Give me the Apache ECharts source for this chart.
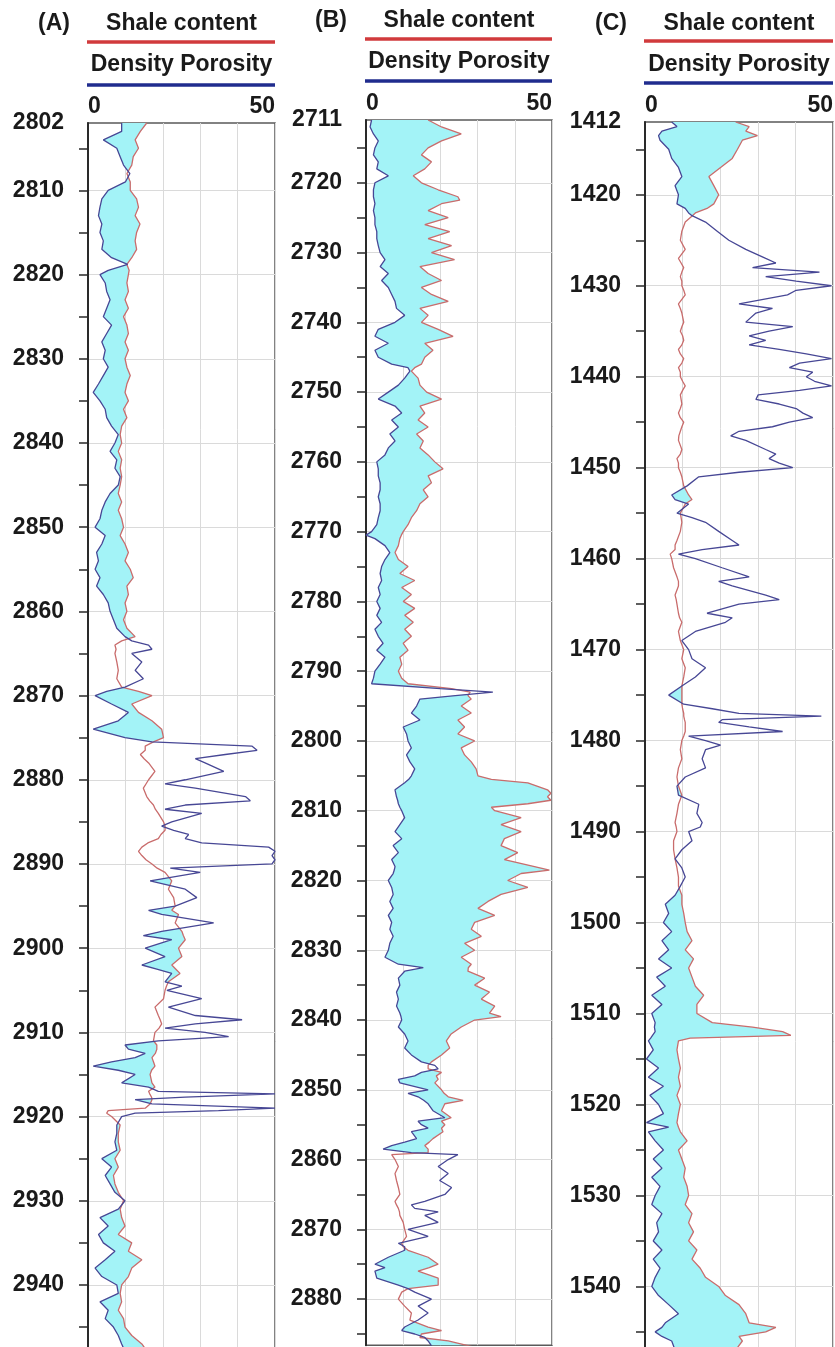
<!DOCTYPE html>
<html>
<head>
<meta charset="utf-8">
<script src="https://cdn.jsdelivr.net/npm/echarts@6/dist/echarts.min.js"></script>
<style>
  html, body { margin: 0; padding: 0; background: #ffffff; }
  #chart { width: 835px; height: 1347px; }
</style>
</head>
<body>
<div id="chart"></div>
<script>
// ---- Well A: depth (m), shale content (%), density porosity (%) ----
const depthA = [2802,2803,2804,2805,2806,2807,2808,2809,2810,2811,2812,2813,2814,2815,2816,2817,2818,2818.8,2819.5,2820,
  2821,2822,2823,2824,2825,2826,2827,2828,2829,2830,2831,2832,2833,2834,2835,2836,2837,2838,2839,2840,
  2841,2842,2843,2844,2845,2846,2847,2848,2849,2850,2851,2852,2853,2854,2855,2856,2857,2858,2859,2860,
  2861,2862,2863,2863.5,2864,2864.5,2865,2866,2867,2868,2869,2869.5,2870,2871,2872,2873,2874,2875,2875.5,2876,
  2876.5,2877,2877.5,2878,2879,2880,2880.5,2881,2882,2882.5,2883,2883.5,2884,2885,2885.5,2886,2886.5,2887,2887.5,2888,
  2888.5,2889,2889.5,2890,2890.5,2891,2892,2893,2894,2895,2895.5,2896,2897,2898,2898.5,2899,2900,2901,2902,2902.5,
  2903,2904,2904.5,2905,2906,2907,2908,2908.5,2909,2909.5,2910,2910.5,2911,2911.5,2912,2912.5,2913,2913.5,2914,2914.5,
  2915,2916,2916.5,2917,2917.3,2917.7,2918,2918.5,2919,2919.3,2919.6,2920,2921,2922,2923,2924,2925,2926,2927,2928,
  2929,2930,2931,2932,2933,2934,2935,2936,2937,2938,2939,2940,2941,2942,2943,2944,2945,2946,2947,2948];
const shaleA = [15.7,14.0,12.6,13.5,12.1,11.7,10.4,11.3,11.3,13.0,13.5,12.6,13.9,13.0,12.6,13.0,11.7,10.4,11.0,10.8,
  10.4,10.8,9.9,10.8,9.5,10.4,10.8,9.9,10.8,9.9,10.4,11.3,10.4,9.9,10.8,9.5,10.4,9.0,8.6,9.0,
  8.1,9.0,8.6,9.0,8.6,8.1,9.0,8.1,9.0,9.5,8.6,9.9,10.8,9.9,11.3,12.1,10.4,10.8,9.9,10.4,
  9.5,10.4,12.6,9.0,7.2,7.5,7.2,7.7,8.1,7.7,9.0,13.5,17.1,11.7,13.5,17.1,19.7,20.2,17.5,15.3,
  15.3,14.0,15.0,16.2,17.9,16.2,15.5,14.8,15.7,16.5,17.5,18.0,18.8,20.2,20.6,20.6,19.5,18.8,16.0,14.4,
  13.5,14.4,15.5,17.1,18.5,20.6,22.4,21.5,22.9,23.3,22.4,24.2,23.3,25.1,25.5,26.0,24.2,25.1,22.4,23.5,
  24.6,21.5,21.0,20.6,20.2,17.9,18.8,19.3,19.7,19.0,17.9,17.7,17.5,18.4,18.4,18.0,17.1,17.5,17.9,17.0,
  16.6,17.1,17.9,16.2,16.5,17.0,17.1,16.6,15.3,5.4,5.0,6.3,8.6,8.1,8.1,8.6,7.2,8.1,6.8,7.2,
  8.1,9.5,8.6,9.0,9.9,8.1,11.7,10.8,14.4,11.7,10.8,9.0,8.6,9.0,8.1,9.5,9.9,11.7,14.4,16.0];
const porA = [9.0,9.0,4.1,7.7,8.6,9.5,11.2,10.0,5.4,3.7,3.2,2.8,3.7,3.2,4.1,3.7,6.3,10.6,5.4,3.2,
  4.6,5.0,5.9,5.0,4.1,6.3,5.0,3.7,4.6,4.1,5.4,4.1,2.8,1.4,3.2,4.6,5.0,6.3,8.1,7.2,
  5.9,7.7,7.2,8.6,8.1,5.9,4.6,3.7,3.2,1.9,4.6,3.7,2.3,2.8,1.9,3.2,2.3,4.1,5.4,5.9,
  6.8,7.7,9.9,11.7,16.2,17.1,11.7,14.4,12.6,14.8,9.9,5.0,1.9,6.3,10.8,8.1,1.4,9.9,17.1,43.8,
  45.2,36.7,28.7,31.3,36.3,26.0,20.6,28.7,42.1,43.4,26.0,20.6,30.4,22.4,19.7,22.9,26.9,26.0,30.4,48.3,
  50.0,49.2,50.0,49.2,22.0,30.0,16.6,26.0,29.1,23.3,16.2,19.7,33.6,19.7,14.8,22.4,15.3,20.6,14.4,18.4,
  22.4,20.6,25.1,21.1,30.4,21.5,28.7,41.2,28.7,20.6,31.3,37.6,18.8,9.9,10.8,15.3,12.6,6.3,1.4,8.1,
  12.6,9.0,16.2,18.8,50.0,26.0,12.6,17.1,50.0,34.9,12.6,9.0,7.7,7.7,7.2,7.7,3.7,6.3,4.6,5.9,
  7.2,9.9,8.1,3.2,5.4,2.8,4.1,7.2,4.6,1.9,3.7,7.7,8.1,3.2,5.4,4.6,6.8,8.1,9.0,10.0];
const depthLabelsA = [2802,2810,2820,2830,2840,2850,2860,2870,2880,2890,2900,2910,2920,2930,2940];
const depthTicksA = [2805,2810,2815,2820,2825,2830,2835,2840,2845,2850,2855,2860,2865,2870,2875,2880,2885,2890,
  2895,2900,2905,2910,2915,2920,2925,2930,2935,2940,2945];

// ---- Well B ----
const depthB = [2711,2712,2713,2714,2715,2716,2717,2718,2719,2720,2721,2722,2722.5,2723,2724,2725,2726,2727,2728,2729,
  2730,2731,2732,2733,2734,2735,2736,2737,2738,2739,2740,2741,2742,2743,2744,2745,2746,2746.5,2747,2748,
  2749,2750,2751,2752,2753,2754,2755,2756,2757,2758,2759,2760,2761,2762,2763,2764,2765,2766,2767,2768,
  2769,2770,2770.5,2771,2772,2773,2774,2775,2776,2777,2778,2779,2780,2781,2782,2783,2784,2785,2786,2787,
  2788,2789,2790,2791,2791.8,2792.5,2793,2793.5,2794,2795,2796,2797,2798,2799,2800,2801,2802,2803,2804,2805,
  2805.5,2806,2807,2807.5,2808,2808.5,2809,2809.5,2810,2811,2812,2813,2814,2815,2816,2817,2818,2818.5,2819,2820,
  2821,2822,2823,2824,2825,2826,2827,2828,2829,2830,2831,2832,2832.5,2833,2834,2835,2836,2837,2838,2839,
  2839.5,2840,2841,2842,2843,2844,2845,2846,2846.5,2847,2847.5,2848,2848.5,2849,2850,2850.5,2851,2851.5,2852,2853,
  2854,2854.5,2855,2855.5,2856,2857,2857.5,2858,2858.5,2859,2859.3,2860,2861,2862,2863,2864,2865,2866,2866.5,2867,
  2867.5,2868,2869,2870,2871,2872,2872.5,2873,2874,2875,2875.5,2876,2877,2878,2878.5,2879,2880,2881,2882,2883,
  2884,2884.5,2885,2885.5,2886,2887];
const shaleB = [16.7,20.3,25.6,20.3,16.7,14.9,17.6,15.8,12.7,14.9,19.4,24.7,25.2,20.3,16.7,22.1,15.8,22.5,16.7,23.0,
  17.6,23.8,14.5,16.7,20.3,14.9,17.6,22.1,14.5,16.7,14.9,19.4,23.4,15.8,18.0,15.8,14.9,13.1,12.2,14.0,
  14.5,16.3,20.3,14.5,15.8,14.0,16.7,13.6,15.4,14.5,16.7,18.5,20.7,16.7,17.6,15.4,16.7,14.5,13.6,12.2,
  11.3,10.0,9.5,9.1,8.7,7.8,8.7,11.3,9.1,13.1,9.6,12.2,10.0,13.1,10.4,12.7,10.4,12.2,10.0,11.3,
  9.1,9.6,8.7,9.6,11.3,23.0,28.0,27.4,28.3,25.6,28.3,24.7,26.5,24.7,29.2,25.6,26.5,28.3,29.6,30.1,
  33.7,43.5,48.8,49.7,48.8,49.7,43.5,33.7,34.6,41.7,36.3,41.7,37.2,36.3,40.8,37.2,45.3,49.3,41.7,38.1,
  43.5,36.3,32.8,30.1,34.6,29.2,28.3,31.0,26.5,29.2,25.6,28.3,27.5,27.4,31.9,29.2,33.2,31.0,34.6,33.2,
  36.3,29.2,25.6,22.9,21.6,22.5,20.3,17.6,16.7,16.7,20.3,18.9,19.4,18.5,20.3,21.0,22.1,26.1,21.2,20.3,
  22.9,20.3,21.2,20.3,20.7,18.0,17.0,15.8,16.7,16.7,6.9,7.8,8.7,7.8,8.2,8.7,9.1,7.8,8.2,8.7,
  9.0,9.1,10.0,10.4,10.9,9.6,10.0,11.3,16.7,19.4,17.0,14.0,19.4,19.4,11.3,9.6,8.7,10.4,12.2,11.8,
  16.7,20.3,14.9,14.5,22.1,30.0];
const porB = [1.5,1.1,2.0,3.3,2.4,2.0,3.3,2.9,6.0,2.4,2.0,2.0,2.2,2.4,2.0,2.4,2.4,2.9,2.9,3.3,
  3.8,5.1,3.8,6.0,4.2,6.0,6.9,7.8,8.2,10.4,7.8,3.3,2.4,6.0,2.4,3.3,6.9,11.3,11.8,10.4,
  8.7,6.0,3.3,7.8,9.6,6.9,8.7,6.4,7.8,6.0,5.1,2.9,3.3,3.3,3.8,3.8,3.3,3.8,3.8,3.3,
  2.9,1.5,0.0,2.4,5.1,6.4,5.1,4.2,3.8,4.2,3.3,3.8,2.9,3.8,2.9,4.2,2.4,3.3,4.6,2.9,
  5.1,3.8,2.4,2.0,1.5,20.0,34.1,24.0,14.5,13.6,12.2,14.5,10.0,10.9,11.3,12.2,10.9,11.8,13.1,12.2,
  11.5,10.4,7.8,8.0,8.2,8.5,8.7,9.1,9.6,10.4,9.1,7.8,9.6,7.3,8.7,6.9,7.8,7.6,7.3,6.0,
  6.9,7.3,6.4,7.3,6.0,6.9,6.4,7.3,6.4,6.0,5.1,8.7,15.4,10.4,8.7,9.1,8.2,8.7,8.2,9.1,
  9.4,9.6,8.7,10.4,11.3,10.4,12.2,14.9,18.5,19.4,14.9,13.1,8.7,9.1,16.7,11.3,14.0,15.5,16.7,18.0,
  21.2,14.0,14.9,16.7,12.2,13.6,10.4,6.9,4.6,12.2,24.7,22.1,19.4,22.1,19.8,23.0,21.2,15.8,12.2,13.1,
  19.4,15.8,19.4,11.3,16.7,8.7,10.4,10.4,6.0,2.4,5.1,2.4,2.9,8.7,11.3,13.1,17.6,14.0,16.7,14.0,
  10.4,9.6,13.1,15.8,16.7,18.0];
const depthLabelsB = [2711,2720,2730,2740,2750,2760,2770,2780,2790,2800,2810,2820,2830,2840,2850,2860,2870,2880];
const depthTicksB = [2715,2720,2725,2730,2735,2740,2745,2750,2755,2760,2765,2770,2775,2780,2785,2790,2795,2800,
  2805,2810,2815,2820,2825,2830,2835,2840,2845,2850,2855,2860,2865,2870,2875,2880,2885];

// ---- Well C ----
const depthC = [1412,1412.5,1413,1413.5,1414,1415,1416,1417,1418,1419,1420,1421,1421.5,1422,1422.3,1423,1424,1425,1426,1427,
  1427.5,1428,1428.5,1429,1429.5,1430,1430.5,1431,1432,1432.5,1433,1434,1434.5,1435,1435.5,1436,1436.5,1437,1437.5,1438,
  1438.5,1439,1439.5,1440,1440.5,1441,1441.5,1442,1442.5,1443,1443.5,1444,1444.5,1445,1445.5,1446,1446.5,1447,1448,1448.5,
  1449,1449.5,1450,1450.5,1451,1452,1453,1453.5,1454,1455,1455.5,1456,1457,1458,1458.5,1459,1459.5,1460,1461,1462,
  1462.5,1463,1464,1464.5,1465,1466,1466.5,1467,1468,1469,1470,1471,1472,1473,1474,1475,1476,1476.5,1477,1477.3,
  1477.7,1478,1478.5,1479,1479.5,1480,1480.5,1481,1482,1483,1484,1485,1486,1487,1488,1489,1489.5,1490,1491,1492,
  1493,1494,1495,1496,1497,1498,1499,1500,1501,1502,1503,1504,1505,1506,1507,1508,1509,1510,1511,1511.5,
  1512,1512.4,1512.7,1513,1514,1515,1516,1517,1518,1519,1520,1521,1522,1522.5,1523,1524,1525,1526,1527,1528,
  1529,1530,1531,1532,1533,1534,1535,1536,1537,1538,1539,1540,1541,1542,1543,1544,1544.5,1545,1545.5,1546,
  1547,1548];
const shaleC = [24.1,27.7,26.8,29.9,25.9,24.6,23.2,20.1,17.0,18.3,19.6,18.3,16.5,13.4,12.6,10.7,9.8,9.4,10.7,8.9,
  9.6,10.3,9.8,9.4,9.8,9.8,10.3,10.7,8.9,9.4,9.8,10.3,9.8,9.4,10.0,10.3,9.8,8.9,9.4,10.3,
  9.8,8.9,9.4,9.4,10.0,10.7,10.0,9.4,9.6,9.8,9.4,8.9,9.4,10.3,9.8,9.4,9.0,8.9,9.8,9.4,
  8.5,8.9,8.9,9.4,9.8,10.3,11.6,12.5,10.7,9.4,9.6,9.8,9.4,8.5,8.0,8.0,6.7,7.1,7.6,8.5,
  8.9,8.9,8.0,8.3,8.5,8.9,9.2,9.8,8.9,9.4,10.3,9.8,10.7,10.3,9.8,9.8,9.8,10.0,10.3,10.3,
  10.5,10.7,10.7,10.7,10.3,9.8,9.6,9.4,9.8,8.9,8.5,8.9,9.8,8.9,8.5,8.0,8.3,8.5,7.6,7.6,
  8.0,8.5,8.9,8.9,9.8,9.8,10.3,10.7,11.2,12.5,10.7,12.9,11.6,12.5,13.4,15.6,13.8,13.8,17.9,28.6,
  36.6,38.8,12.0,8.9,8.5,8.9,9.4,8.9,9.4,8.5,9.4,8.9,8.5,8.9,9.4,11.2,8.9,9.8,10.7,10.3,
  11.2,11.6,10.7,12.5,11.6,12.9,11.6,13.8,12.5,14.7,16.1,19.6,21.4,25.0,26.8,27.7,34.8,32.1,25.0,25.9,
  24.1,22.0];
const porC = [7.1,8.5,4.5,3.6,4.0,6.3,7.1,8.9,9.8,8.0,8.9,8.5,10.7,11.6,12.5,16.1,19.2,22.3,26.8,32.1,
  34.8,28.6,46.4,32.1,40.2,49.6,40.2,37.9,25.0,33.9,29.5,26.8,39.3,33.0,27.7,32.1,27.7,35.7,42.9,49.6,
  41.1,38.4,44.6,42.9,45.1,49.6,41.1,30.1,29.5,35.7,40.2,42.0,44.6,38.4,33.9,25.0,22.8,26.8,32.1,34.8,
  33.0,35.7,39.3,25.0,14.3,11.2,7.1,8.0,11.6,8.5,12.5,16.1,19.6,23.2,25.0,15.2,8.9,13.4,20.5,27.7,
  19.6,23.2,32.1,35.7,25.0,16.5,23.2,21.4,13.4,9.8,11.6,12.5,16.1,13.4,9.8,6.3,10.3,17.9,25.0,46.9,
  20.5,19.6,27.7,36.6,11.6,16.1,20.1,16.1,15.2,16.1,10.7,8.5,8.9,14.3,13.8,15.2,14.7,11.6,12.5,9.8,
  8.0,9.8,10.7,9.4,8.0,5.4,6.3,4.9,7.1,4.5,6.3,3.6,7.1,3.1,5.4,1.8,4.5,1.8,2.7,2.5,
  2.7,2.0,1.5,0.9,2.2,0.4,3.6,0.9,4.9,1.3,3.6,4.9,0.4,6.3,0.9,2.7,4.9,2.2,4.5,1.8,
  4.0,2.7,1.8,4.5,3.1,3.6,2.2,4.5,2.2,4.0,2.7,1.8,3.6,6.3,8.9,5.4,4.5,2.7,4.5,7.1,
  8.0,7.5];
const depthLabelsC = [1412,1420,1430,1440,1450,1460,1470,1480,1490,1500,1510,1520,1530,1540];
const depthTicksC = [1415,1420,1425,1430,1435,1440,1445,1450,1455,1460,1465,1470,1475,1480,1485,1490,1495,1500,
  1505,1510,1515,1520,1525,1530,1535,1540,1545];

// Porosity / shale scale
const xTickLabels = [0, 50];
const curveNames = ['Shale content', 'Density Porosity'];

// ---- styling ----
const FONT = '"Liberation Sans", Arial, Helvetica, sans-serif';
const TEXT = '#1a1a1a';
const CYAN = '#a3f3f7';
const SHALE_LINE = '#c96c6c';
const POR_LINE = '#474795';
const LEGEND_RED = '#d13a3c';
const LEGEND_BLUE = '#202c8e';
const GRID_LINE = '#dadada';

const panels = [
  { tag: '(A)', depth: depthA, shale: shaleA, por: porA, labels: depthLabelsA, ticks: depthTicksA,
    left: 88, width: 187, top: 123, min: 2802, max: 2950, pxPerM: 8.42,
    tagX: 54, hy: [24, 42, 65, 85] },
  { tag: '(B)', depth: depthB, shale: shaleB, por: porB, labels: depthLabelsB, ticks: depthTicksB,
    left: 366, width: 186, top: 120, min: 2711, max: 2886.6, pxPerM: 6.977,
    tagX: 331, hy: [21, 39, 62, 81] },
  { tag: '(C)', depth: depthC, shale: shaleC, por: porC, labels: depthLabelsC, ticks: depthTicksC,
    left: 645, width: 188, top: 122, min: 1412, max: 1550, pxPerM: 9.097,
    tagX: 611, hy: [24, 41, 65, 83] }
];

// Cyan shading wherever shale content exceeds density porosity
function shadeRenderer(depth, shale, por) {
  return function (params, api) {
    const children = [];
    let run = null;
    const close = function () {
      if (run && run.right.length > 1) {
        const pts = run.right.concat(run.left.slice().reverse());
        children.push({ type: 'polygon', shape: { points: pts }, style: { fill: CYAN, stroke: null } });
      }
      run = null;
    };
    for (let i = 0; i < depth.length; i++) {
      const d = shale[i] - por[i];
      if (i > 0) {
        const dp = shale[i - 1] - por[i - 1];
        if ((dp >= 0) !== (d >= 0)) {
          const t = dp / (dp - d);
          const z = depth[i - 1] + t * (depth[i] - depth[i - 1]);
          const v = por[i - 1] + t * (por[i] - por[i - 1]);
          const c = api.coord([v, z]);
          if (run) { run.right.push(c); run.left.push(c); close(); }
          else { run = { right: [c], left: [c] }; }
        }
      }
      if (d >= 0) {
        if (!run) run = { right: [], left: [] };
        run.right.push(api.coord([shale[i], depth[i]]));
        run.left.push(api.coord([por[i], depth[i]]));
      }
    }
    close();
    return { type: 'group', children: children };
  };
}

const grid = [], xAxis = [], yAxis = [], series = [], graphic = [];

panels.forEach(function (p, i) {
  grid.push({
    left: p.left, top: p.top, width: p.width, height: (p.max - p.min) * p.pxPerM,
    show: true, borderColor: '#5a5a5a', borderWidth: 1.5, backgroundColor: 'transparent',
    outerBoundsMode: 'none', containLabel: false
  });
  xAxis.push({
    type: 'value', gridIndex: i, min: 0, max: 50, interval: 10, position: 'top',
    axisLine: { show: false }, axisTick: { show: false },
    axisLabel: {
      show: true, margin: 5, fontFamily: FONT, fontSize: 23, fontWeight: 'bold', color: TEXT,
      formatter: function (v) { return xTickLabels.indexOf(v) >= 0 ? String(v) : ''; },
      alignMinLabel: 'left', alignMaxLabel: 'right'
    },
    splitLine: { show: true, lineStyle: { color: GRID_LINE, width: 1 } }
  });
  // depth axis with labels and ticks
  yAxis.push({
    type: 'value', gridIndex: i, inverse: true, min: p.min, max: p.max, position: 'left',
    axisLine: { show: true, onZero: false, lineStyle: { color: '#2a2a2a', width: 2 } },
    axisTick: { show: true, inside: false, length: 9, customValues: p.ticks, lineStyle: { color: '#2a2a2a', width: 1.5 } },
    axisLabel: {
      show: true, customValues: p.labels, margin: 24, fontFamily: FONT, fontSize: 23, fontWeight: 'bold', color: TEXT,
      formatter: function (v) { return String(v); }
    },
    splitLine: { show: false }
  });
  // companion depth axis carrying the 10 m grid lines
  yAxis.push({
    type: 'value', gridIndex: i, inverse: true, min: p.min, max: p.max, position: 'left',
    axisLine: { show: false },
    axisTick: { show: false, customValues: p.labels.filter(function (d) { return d % 10 === 0; }) },
    axisLabel: { show: false },
    splitLine: { show: true, lineStyle: { color: GRID_LINE, width: 1 } }
  });

  series.push({
    type: 'custom', name: 'shade' + i, xAxisIndex: i, yAxisIndex: 2 * i, clip: true, silent: true, z: 2,
    data: [[0, p.min]], renderItem: shadeRenderer(p.depth, p.shale, p.por)
  });
  series.push({
    type: 'line', name: curveNames[0], xAxisIndex: i, yAxisIndex: 2 * i, z: 3,
    data: p.depth.map(function (d, k) { return [p.shale[k], d]; }),
    showSymbol: false, clip: true, silent: true,
    lineStyle: { color: SHALE_LINE, width: 1.3 }
  });
  series.push({
    type: 'line', name: curveNames[1], xAxisIndex: i, yAxisIndex: 2 * i, z: 4,
    data: p.depth.map(function (d, k) { return [p.por[k], d]; }),
    showSymbol: false, clip: true, silent: true,
    lineStyle: { color: POR_LINE, width: 1.3 }
  });

  // track header: panel tag, curve names with their line keys
  const cx = p.left + p.width / 2;
  const txt = { fontFamily: FONT, fontSize: 23, fontWeight: 'bold', fill: TEXT, align: 'center', verticalAlign: 'middle' };
  graphic.push({ type: 'text', style: Object.assign({ text: p.tag, x: p.tagX, y: p.hy[0] }, txt) });
  graphic.push({ type: 'text', style: Object.assign({ text: curveNames[0], x: cx, y: p.hy[0] }, txt) });
  graphic.push({ type: 'line', shape: { x1: p.left - 1, y1: p.hy[1], x2: p.left + p.width, y2: p.hy[1] },
    style: { stroke: LEGEND_RED, lineWidth: 3.5 } });
  graphic.push({ type: 'text', style: Object.assign({ text: curveNames[1], x: cx, y: p.hy[2] }, txt) });
  graphic.push({ type: 'line', shape: { x1: p.left - 1, y1: p.hy[3], x2: p.left + p.width, y2: p.hy[3] },
    style: { stroke: LEGEND_BLUE, lineWidth: 3.5 } });
});

const chart = echarts.init(document.getElementById('chart'), null, { renderer: 'canvas' });
chart.setOption({
  animation: false,
  backgroundColor: '#ffffff',
  grid: grid, xAxis: xAxis, yAxis: yAxis, series: series, graphic: graphic
});
</script>
</body>
</html>
